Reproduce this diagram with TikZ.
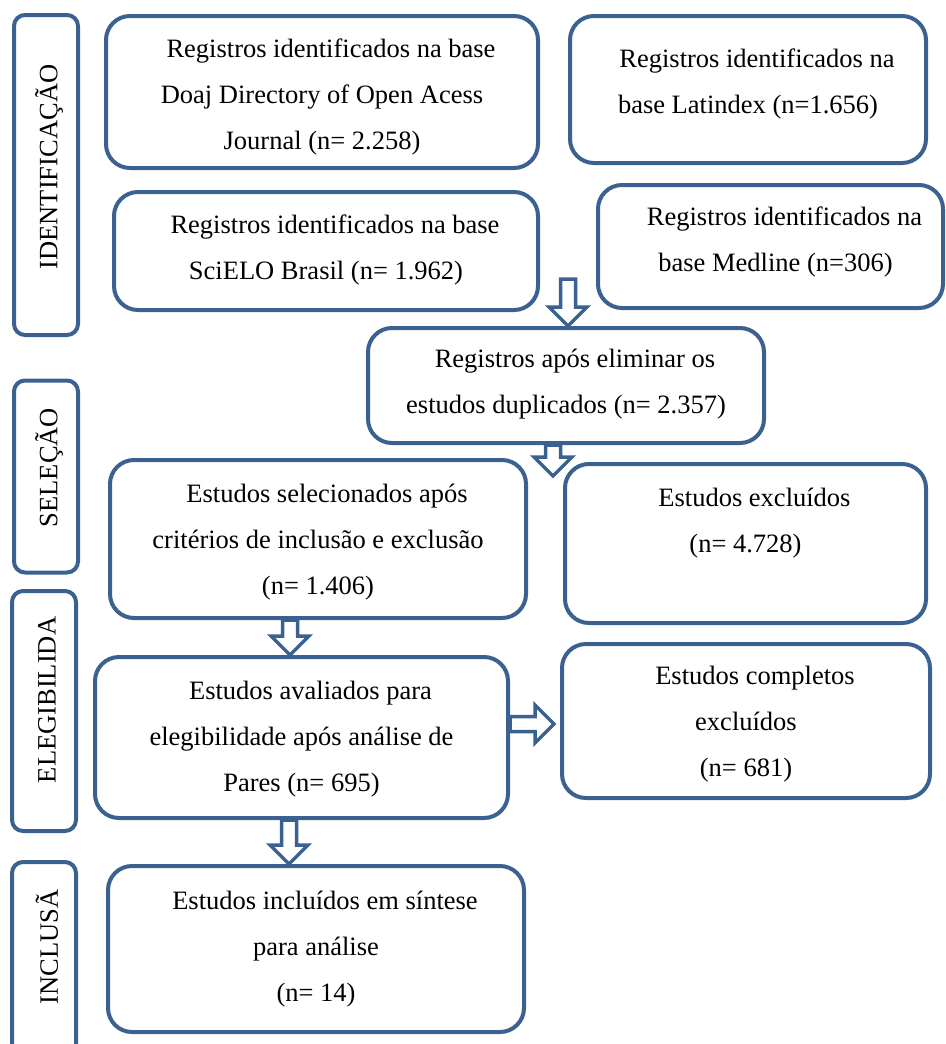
\documentclass[tikz,border=0pt]{standalone}
\usepackage{fontspec}
\setmainfont{Liberation Serif}
\usetikzlibrary{calc}
\definecolor{Frame}{HTML}{3B6191}

% first line of each box starts a little to the right
\newcommand{\indt}{\hspace*{18pt}}

% outlined block arrows, drawn from one point to another
\newcommand{\blkdown}[2]{%
  \draw[blk] let \p1=(#1), \p2=(#2) in
    (\x1-7.5pt,\y1) -- (\x1-7.5pt,\y2+19pt) -- (\x1-19pt,\y2+19pt) -- (\x1,\y2)
    -- (\x1+19pt,\y2+19pt) -- (\x1+7.5pt,\y2+19pt) -- (\x1+7.5pt,\y1) -- cycle;}
\newcommand{\blkright}[2]{%
  \draw[blk] let \p1=(#1), \p2=(#2) in
    (\x1,\y1+7.5pt) -- (\x2-19pt,\y1+7.5pt) -- (\x2-19pt,\y1+19pt) -- (\x2,\y1)
    -- (\x2-19pt,\y1-19pt) -- (\x2-19pt,\y1-7.5pt) -- (\x1,\y1-7.5pt) -- cycle;}

\tikzset{
  box/.style={draw=Frame, line width=4pt, rounded corners=24pt, fill=white, inner sep=0pt},
  side/.style={draw=Frame, line width=4pt, rounded corners=11pt, inner sep=0pt},
  txt/.style={align=center, inner sep=0pt, font=\fontsize{26.5}{46}\selectfont},
  sidetxt/.style={rotate=90, inner sep=0pt, font=\fontsize{26.5}{30}\selectfont},
  blk/.style={draw=Frame, fill=white, line width=3.5pt, line join=miter},
}

\begin{document}
\begin{tikzpicture}[x=1pt, y=-1pt]
  \useasboundingbox (0,0) rectangle (945,1044);
  \clip (0,0) rectangle (945,1044);

  % phase boxes on the left
  \node[side, minimum width=64, minimum height=320] (idb) at (46,175) {};
  \node[side, minimum width=64, minimum height=192] (slb) at (46,476.5) {};
  \node[side, minimum width=64, minimum height=240] (elb) at (44,711) {};
  \node[side, minimum width=64, minimum height=200] (inb) at (44,962) {};
  \node[sidetxt] (idt) at ($(idb)+(3,-8)$) {IDENTIFICAÇÃO};
  \node[sidetxt] (slt) at ($(slb)+(3,-9)$) {SELEÇÃO};
  \node[sidetxt] (elt) at ($(elb)+(3,-11)$) {ELEGIBILIDA};
  \node[sidetxt] (int) at ($(inb)+(3,-15)$) {INCLUSÃ};

  % identification
  \node[box, minimum width=432, minimum height=152] (doaj) at (322,92) {};
  \node[box, minimum width=356, minimum height=147] (latx) at (748,89.5) {};
  \node[box, minimum width=424, minimum height=118] (sciel) at (326,251) {};
  \node[box, minimum width=345, minimum height=123] (medl) at (770.5,246.5) {};
  \node[txt] (doaj-t) at ($(doaj)+(0,5)$) {\indt Registros identificados na base\\Doaj Directory of Open Acess\\Journal (n= 2.258)};
  \node[txt] (latx-t) at ($(latx)+(0,-6)$) {\indt Registros identificados na\\base Latindex (n=1.656)};
  \node[txt] (sciel-t) at ($(sciel)+(0,-1)$) {\indt Registros identificados na base\\SciELO Brasil (n= 1.962)};
  \node[txt] (medl-t) at ($(medl)+(5,-5)$) {\indt Registros identificados na\\base Medline (n=306)};

  % screening
  \node[box, minimum width=396, minimum height=115] (dupl) at (566,385.5) {};
  \node[box, minimum width=416, minimum height=158] (sel) at (318,539) {};
  \node[box, minimum width=361, minimum height=159] (exc) at (745.5,543.5) {};
  \node[txt] (dupl-t) at ($(dupl)+(0,-1)$) {\indt Registros após eliminar os\\estudos duplicados (n= 2.357)};
  \node[txt] (sel-t) at ($(sel)+(0,3)$) {\indt Estudos selecionados após\\critérios de inclusão e exclusão\\(n= 1.406)};
  \node[txt] (exc-t) at ($(exc)+(0,-20)$) {\indt Estudos excluídos\\(n= 4.728)};

  % eligibility
  \node[box, minimum width=413, minimum height=161] (aval) at (301.5,737.5) {};
  \node[box, minimum width=368, minimum height=154] (comp) at (746,721) {};
  \node[txt] (aval-t) at ($(aval)+(0,2)$) {\indt Estudos avaliados para\\elegibilidade após análise de\\Pares (n= 695)};
  \node[txt] (comp-t) at ($(comp)+(0,3)$) {\indt Estudos completos\\excluídos\\(n= 681)};

  % inclusion
  \node[box, minimum width=416, minimum height=166] (incl) at (316,949) {};
  \node[txt] (incl-t) at (incl) {\indt Estudos incluídos em síntese\\para análise\\(n= 14)};

  % block arrows
  \coordinate (a1) at (568,279);
  \coordinate (a2) at ([xshift=-13pt]dupl.south);
  \coordinate (a2e) at ($(a2)+(0,31)$);
  \coordinate (a3) at ([xshift=-28pt]sel.south);
  \coordinate (a4) at (aval.east |- 0,724);
  \coordinate (a5) at ([xshift=-12.5pt]aval.south);
  \blkdown{a1}{a1 |- dupl.north}
  \blkdown{a2}{a2e}
  \blkdown{a3}{a3 |- aval.north}
  \blkright{a4}{[xshift=-6pt]comp.west |- a4}
  \blkdown{a5}{a5 |- incl.north}
\end{tikzpicture}
\end{document}
